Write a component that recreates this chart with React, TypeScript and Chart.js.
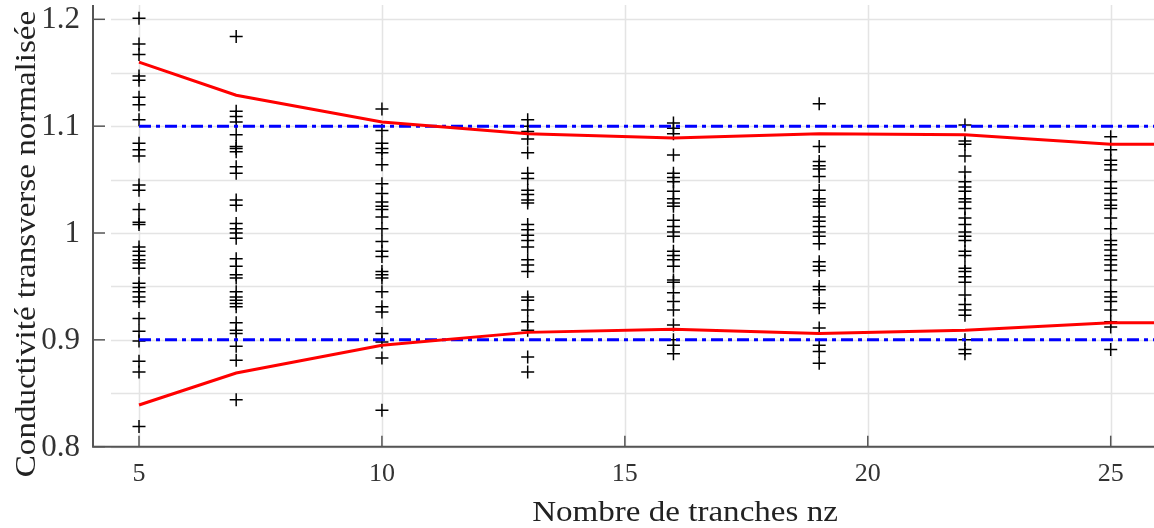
import React, { useEffect, useRef } from 'react';
import { Chart, registerables } from 'chart.js';

Chart.register(...registerables);

// ---------- data ----------
const nzValues = [5, 7, 10, 13, 16, 19, 22, 25];

const nz5 = [1.201, 1.177, 1.167, 1.147, 1.143, 1.127, 1.120, 1.106, 1.084, 1.078, 1.072, 1.045, 1.040, 1.022, 1.010, 1.008, 0.987, 0.983, 0.979, 0.975, 0.972, 0.967, 0.953, 0.949, 0.945, 0.940, 0.936, 0.920, 0.908, 0.899, 0.880, 0.870, 0.819];
const nz7 = [1.184, 1.114, 1.109, 1.104, 1.092, 1.081, 1.079, 1.076, 1.062, 1.056, 1.031, 1.026, 1.009, 1.004, 1.000, 0.995, 0.976, 0.969, 0.961, 0.958, 0.945, 0.940, 0.937, 0.934, 0.931, 0.916, 0.909, 0.906, 0.894, 0.881, 0.844];
const nz10 = [1.116, 1.096, 1.084, 1.079, 1.075, 1.064, 1.046, 1.037, 1.029, 1.025, 1.022, 1.015, 1.004, 0.992, 0.983, 0.978, 0.964, 0.961, 0.958, 0.945, 0.931, 0.926, 0.906, 0.898, 0.883, 0.834];
const nz13 = [1.106, 1.100, 1.095, 1.088, 1.075, 1.056, 1.051, 1.040, 1.036, 1.031, 1.028, 1.008, 1.003, 0.998, 0.993, 0.987, 0.975, 0.970, 0.964, 0.940, 0.937, 0.928, 0.917, 0.909, 0.884, 0.870];
const nz16 = [1.103, 1.098, 1.093, 1.073, 1.056, 1.052, 1.048, 1.039, 1.032, 1.028, 1.025, 1.012, 1.006, 1.001, 0.997, 0.983, 0.979, 0.975, 0.969, 0.956, 0.954, 0.944, 0.936, 0.928, 0.914, 0.900, 0.895, 0.887];
const nz19 = [1.121, 1.081, 1.067, 1.063, 1.060, 1.053, 1.040, 1.032, 1.029, 1.025, 1.015, 1.011, 1.006, 1.001, 0.997, 0.990, 0.973, 0.969, 0.965, 0.950, 0.947, 0.934, 0.930, 0.911, 0.895, 0.889, 0.878];
const nz22 = [1.101, 1.086, 1.083, 1.072, 1.057, 1.048, 1.043, 1.039, 1.032, 1.029, 1.023, 1.014, 1.008, 1.001, 0.997, 0.993, 0.983, 0.979, 0.967, 0.964, 0.959, 0.954, 0.942, 0.933, 0.928, 0.923, 0.900, 0.891, 0.887];
const nz25 = [1.090, 1.078, 1.068, 1.064, 1.059, 1.048, 1.042, 1.037, 1.031, 1.026, 1.023, 1.014, 1.004, 0.993, 0.989, 0.984, 0.979, 0.975, 0.970, 0.965, 0.956, 0.945, 0.940, 0.936, 0.928, 0.917, 0.912, 0.891];
const samplesByNz = [nz5, nz7, nz10, nz13, nz16, nz19, nz22, nz25];

const boundX = [5, 7, 10, 13, 16, 19, 22, 25, 26];
const upperBound = [1.160, 1.129, 1.104, 1.093, 1.089, 1.093, 1.092, 1.083, 1.083];
const lowerBound = [0.839, 0.869, 0.895, 0.907, 0.910, 0.906, 0.909, 0.916, 0.916];

const refX = [5, 26];
const refUpper = [1.1, 1.1];
const refLower = [0.9, 0.9];

const xTicks = [5, 10, 15, 20, 25];
const xTickLabels = ['5', '10', '15', '20', '25'];
const yTicks = [0.8, 0.9, 1.0, 1.1, 1.2];
const yTickLabels = ['0.8', '0.9', '1', '1.1', '1.2'];
const yGridValues = [0.8, 0.85, 0.9, 0.95, 1.0, 1.05, 1.1, 1.15, 1.2];

const xTitle = 'Nombre de tranches nz';
const yTitle = 'Conductivité transverse normalisée';

const X_MIN = 4.053;
const X_MAX = 25.891;
const Y_MIN = 0.8;
const Y_MAX = 1.2134;

const SERIF = '"Liberation Serif", "Times New Roman", serif';

const framePlugin = {
  id: 'matlabFrame',
  beforeDatasetsDraw(chart: any) {
    const { ctx, chartArea, scales } = chart;
    const xs = scales.x;
    const ys = scales.y;
    ctx.save();
    ctx.strokeStyle = '#e4e4e4';
    ctx.lineWidth = 1.5;
    yGridValues.forEach((v) => {
      const py = Math.round(ys.getPixelForValue(v)) + 0.5;
      ctx.beginPath();
      ctx.moveTo(chartArea.left + 18, py);
      ctx.lineTo(chartArea.right, py);
      ctx.stroke();
    });
    xTicks.forEach((v) => {
      const px = Math.round(xs.getPixelForValue(v)) + 0.5;
      ctx.beginPath();
      ctx.moveTo(px, chartArea.top);
      ctx.lineTo(px, chartArea.bottom);
      ctx.stroke();
    });
    ctx.restore();
  },
  afterDatasetsDraw(chart: any) {
    const { ctx, chartArea, scales } = chart;
    const xs = scales.x;
    const ys = scales.y;
    ctx.save();
    // axes
    ctx.strokeStyle = '#555555';
    ctx.lineWidth = 2;
    ctx.beginPath();
    ctx.moveTo(chartArea.left, chartArea.top);
    ctx.lineTo(chartArea.left, chartArea.bottom);
    ctx.lineTo(chartArea.right, chartArea.bottom);
    ctx.stroke();
    // inward tick marks
    ctx.lineWidth = 1.5;
    yTicks.forEach((v) => {
      const py = ys.getPixelForValue(v);
      ctx.beginPath();
      ctx.moveTo(chartArea.left, py);
      ctx.lineTo(chartArea.left + 12, py);
      ctx.stroke();
    });
    xTicks.forEach((v) => {
      const px = xs.getPixelForValue(v);
      ctx.beginPath();
      ctx.moveTo(px, chartArea.bottom);
      ctx.lineTo(px, chartArea.bottom - 11);
      ctx.stroke();
    });
    // tick labels
    ctx.fillStyle = '#333333';
    ctx.font = `31px ${SERIF}`;
    ctx.textAlign = 'right';
    ctx.textBaseline = 'middle';
    yTicks.forEach((v, i) => {
      ctx.fillText(yTickLabels[i], 80, ys.getPixelForValue(v) + 1);
    });
    ctx.font = `26px ${SERIF}`;
    ctx.textAlign = 'center';
    ctx.textBaseline = 'alphabetic';
    xTicks.forEach((v, i) => {
      ctx.fillText(xTickLabels[i], xs.getPixelForValue(v), 481);
    });
    // axis titles (slightly widened serif)
    ctx.fillStyle = '#222222';
    ctx.font = `28.5px ${SERIF}`;
    ctx.save();
    ctx.translate(685, 521);
    ctx.scale(1.16, 1);
    ctx.textAlign = 'center';
    ctx.fillText(xTitle, 0, 0);
    ctx.restore();
    ctx.save();
    ctx.translate(35, 244);
    ctx.rotate(-Math.PI / 2);
    ctx.scale(1.16, 1);
    ctx.textAlign = 'center';
    ctx.fillText(yTitle, 0, 0);
    ctx.restore();
    ctx.restore();
  },
};

export default function App() {
  const canvasRef = useRef<HTMLCanvasElement | null>(null);

  useEffect(() => {
    document.body.style.margin = '0';
    document.body.style.overflow = 'hidden';
    const canvas = canvasRef.current;
    if (!canvas) return;

    const scatterPoints: { x: number; y: number }[] = [];
    samplesByNz.forEach((arr, i) => {
      arr.forEach((v) => scatterPoints.push({ x: nzValues[i], y: v }));
    });
    const toXY = (xsArr: number[], ysArr: number[]) => xsArr.map((x, i) => ({ x, y: ysArr[i] }));

    const chart = new Chart(canvas, {
      type: 'scatter',
      data: {
        datasets: [
          {
            label: 'upper',
            data: toXY(boundX, upperBound),
            showLine: true,
            borderColor: '#ff0000',
            borderWidth: 3,
            pointRadius: 0,
            fill: false,
            tension: 0,
          },
          {
            label: 'lower',
            data: toXY(boundX, lowerBound),
            showLine: true,
            borderColor: '#ff0000',
            borderWidth: 3,
            pointRadius: 0,
            fill: false,
            tension: 0,
          },
          {
            label: 'ref110',
            data: toXY(refX, refUpper),
            showLine: true,
            borderColor: '#0000ff',
            borderWidth: 3,
            borderDash: [12, 5, 4, 5],
            pointRadius: 0,
            fill: false,
          },
          {
            label: 'ref090',
            data: toXY(refX, refLower),
            showLine: true,
            borderColor: '#0000ff',
            borderWidth: 3,
            borderDash: [12, 5, 4, 5],
            pointRadius: 0,
            fill: false,
          },
          {
            label: 'samples',
            data: scatterPoints,
            showLine: false,
            pointStyle: 'cross',
            pointRadius: 6.5,
            pointBorderWidth: 1.5,
            borderColor: '#000000',
            backgroundColor: '#000000',
          },
        ],
      },
      options: {
        animation: false,
        responsive: false,
        devicePixelRatio: 1,
        layout: { autoPadding: false, padding: { top: 5, left: 0, right: 0, bottom: 0 } },
        plugins: { legend: { display: false }, tooltip: { enabled: false } },
        events: [],
        scales: {
          x: {
            type: 'linear',
            min: X_MIN,
            max: X_MAX,
            ticks: { display: false },
            grid: { display: false },
            border: { display: false },
            afterFit: (s: any) => {
              s.height = 81.3;
            },
          },
          y: {
            type: 'linear',
            min: Y_MIN,
            max: Y_MAX,
            ticks: { display: false },
            grid: { display: false },
            border: { display: false },
            afterFit: (s: any) => {
              s.width = 93;
            },
          },
        },
      },
      plugins: [framePlugin],
    } as any);

    return () => chart.destroy();
  }, []);

  return (
    <div style={{ width: 1154, height: 528, background: '#ffffff' }}>
      <canvas ref={canvasRef} width={1154} height={528} />
    </div>
  );
}
